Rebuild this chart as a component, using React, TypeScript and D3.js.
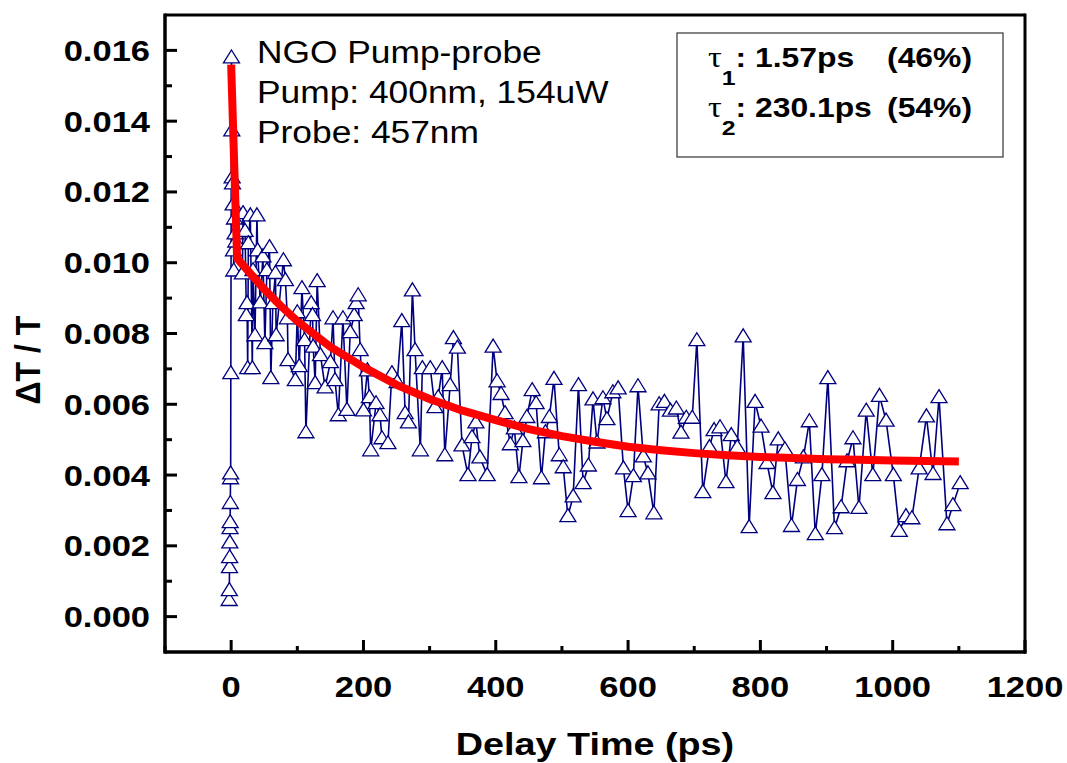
import React from "react";
import * as d3 from "d3";

// ---- Data ----
// Delay time in ps, ΔT/T in units of 1e-3
const delayTimes = [
  -3.0, -2.75, -2.5, -2.25, -2.0, -1.75, -1.5, -1.25, -1.0, -0.75, -0.5,
  0.5, 1.0, 1.5, 2.0, 3.0, 3.5, 4.0, 5.0, 6.0, 7.0,
  17, 18, 21, 23, 24, 25, 26, 29, 32, 33, 36, 39, 40, 44, 48, 51, 54, 58, 60,
  63, 67, 68, 79, 82, 85, 86, 97, 100, 103, 107, 111, 113, 121, 123, 124, 127,
  130, 135, 142, 150, 154, 157, 162, 169, 175, 180, 186, 189, 192, 195, 200,
  206, 209, 211, 219, 225, 228, 237, 243, 251, 258, 263, 268, 274, 278, 286,
  289, 301, 308, 313, 319, 323, 331, 336, 342, 349, 358, 364, 370, 376, 387,
  396, 402, 408, 414, 422, 428, 435, 441, 447, 455, 461, 469, 475, 481, 488,
  496, 502, 509, 517, 525, 532, 540, 547, 553, 562, 568, 577, 585, 593, 600,
  608, 615, 623, 630, 639, 647, 655, 664, 673, 680, 688, 697, 704, 713, 723,
  730, 739, 748, 756, 765, 774, 783, 792, 801, 810, 819, 827, 837, 847, 856,
  865, 874, 883, 893, 902, 912, 922, 931, 940, 949, 960, 970, 980, 990, 1001,
  1010, 1020, 1029, 1040, 1051, 1061, 1070, 1082, 1091, 1102,
];
const signalMilli = [
  0.47, 0.75, 1.4, 1.68, 2.1, 2.5, 2.67, 3.21, 3.91, 4.05, 6.88,
  15.8, 13.74, 12.41, 12.24, 11.65, 10.35, 9.78, 11.25, 10.83, 10.6,
  9.7, 11.4, 10.9, 8.52, 8.86, 7.02, 10.55, 11.34, 7.02, 9.79, 7.95, 11.34, 10.35, 8.88, 10.18, 7.73, 9.79, 10.44, 6.74,
  8.86, 9.71, 7.95, 10.07, 9.51, 8.43, 7.25, 6.68, 8.6, 7.08, 9.28, 7.81, 5.21, 8.86, 8.52, 7.63, 6.6,
  9.48, 7.39, 6.48, 7.19, 8.43, 6.68, 5.69, 8.43, 5.84, 8.04, 8.52, 8.86, 9.08, 7.53, 5.83,
  6.96, 6.2, 4.7, 6.03, 5.69, 5.04, 4.9, 6.88, 6.63, 8.35, 5.75, 5.49, 9.22, 7.53, 4.7,
  7.02, 7.02, 5.92, 6.2, 7.02, 4.56, 6.54, 7.87, 7.6, 4.84, 4.0, 5.07, 5.49, 4.5, 4.0,
  7.63, 6.65, 6.29, 5.75, 4.87, 5.32, 3.94, 4.96, 5.64, 6.4, 6.03, 3.91, 5.21, 5.64, 6.72,
  4.56, 4.22, 2.84, 3.4, 6.54, 3.77, 4.27, 6.14, 4.92, 6.17, 5.58, 6.34, 6.45, 4.19, 2.98,
  3.97, 6.51, 4.53, 4.05, 2.92, 6.0, 6.07, 5.82, 5.88, 5.2, 5.62, 5.62, 7.81, 3.52, 4.79,
  5.27, 5.35, 3.8, 5.13, 4.79, 7.92, 2.53, 6.07, 5.37, 4.34, 3.49, 5.01, 4.73, 2.56, 3.86,
  4.5, 5.52, 2.33, 4.0, 6.74, 2.5, 3.09, 4.39, 5.04, 3.07, 5.82, 4.0, 6.24, 5.54, 4.0,
  2.42, 2.84, 2.78, 4.19, 5.66, 4.03, 6.2, 2.61, 3.15, 3.77,
];

// Biexponential fit curve
const fitTimes = [0, 9, 25, 50, 75, 100, 150, 200, 250, 300, 350, 400, 450, 500, 550, 600, 650, 700, 750, 800, 850, 900, 950, 1000, 1050, 1100];
const fitMilli = [15.6, 10.12, 9.78, 9.25, 8.78, 8.35, 7.62, 7.05, 6.55, 6.15, 5.82, 5.55, 5.3, 5.1, 4.94, 4.8, 4.7, 4.62, 4.56, 4.51, 4.48, 4.45, 4.43, 4.41, 4.4, 4.38];

const xTickValues = [0, 200, 400, 600, 800, 1000, 1200];
const xMinorTicks = [-100, 100, 300, 500, 700, 900, 1100];
const yTickValues = [0, 0.002, 0.004, 0.006, 0.008, 0.01, 0.012, 0.014, 0.016];
const yMinorTicks = [0.001, 0.003, 0.005, 0.007, 0.009, 0.011, 0.013, 0.015];

const infoLines = ["NGO Pump-probe", "Pump: 400nm, 154uW", "Probe: 457nm"];
const lifetimes = [
  { sub: "1", value: ": 1.57ps", frac: "(46%)" },
  { sub: "2", value: ": 230.1ps", frac: "(54%)" },
];
const xTitle = "Delay Time (ps)";
const yTitle = "ΔT / T";

// ---- Layout ----
const W = 1067;
const H = 763;
const L = 165, R = 1025, T = 15, B = 652;
const SX = 1.15; // horizontal stretch of the original export's text
const NAVY = "#00007f";
const FONT = "'Liberation Sans', Arial, Helvetica, sans-serif";

function SText(props: any) {
  const { x, y, sx = SX, rotate, children, ...rest } = props;
  const tr = `translate(${x},${y}) scale(${sx},1)` + (rotate ? ` rotate(${rotate})` : "");
  return (
    <text transform={tr} fontFamily={FONT} {...rest}>
      {children}
    </text>
  );
}

export default function App() {
  const x = d3.scaleLinear().domain([-100, 1200]).range([L, R]);
  const y = d3.scaleLinear().domain([-0.001, 0.017]).range([B, T]);

  const pts = delayTimes.map((t, i) => [t, signalMilli[i] * 1e-3] as [number, number]);
  const fitPts = fitTimes.map((t, i) => [t, fitMilli[i] * 1e-3] as [number, number]);

  const line = d3.line<[number, number]>().x((d) => x(d[0])).y((d) => y(d[1]));
  const tri = (cx: number, cy: number) =>
    `M${cx},${cy - 7.5}L${cx + 8},${cy + 5.5}L${cx - 8},${cy + 5.5}Z`;

  const fmt = d3.format(".3f");

  return (
    <svg
      width={W}
      height={H}
      style={{ position: "absolute", left: 0, top: 0, background: "#fff" }}
    >
      <rect x={0} y={0} width={W} height={H} fill="#fff" />

      {/* data line */}
      <path d={line(pts) || ""} fill="none" stroke={NAVY} strokeWidth={1.6} strokeLinejoin="miter" />
      {/* markers */}
      {pts.map((d, i) => (
        <path key={i} d={tri(x(d[0]), y(d[1]))} fill="#fff" stroke={NAVY} strokeWidth={1.3} />
      ))}
      {/* fit */}
      <path d={line(fitPts) || ""} fill="none" stroke="#ff0000" strokeWidth={8} strokeLinecap="butt" strokeLinejoin="round" />

      {/* frame */}
      <line x1={L} x2={R} y1={T} y2={T} stroke="#000" strokeWidth={3} />
      <line x1={R} x2={R} y1={T - 1.5} y2={B + 1.5} stroke="#000" strokeWidth={3} />
      <line x1={L} x2={R + 1.5} y1={B} y2={B} stroke="#000" strokeWidth={3.5} />
      <line x1={L} x2={L} y1={T - 1.5} y2={B + 1.75} stroke="#000" strokeWidth={3.5} />

      {/* x ticks */}
      {xTickValues.map((v) => (
        <line key={"xt" + v} x1={x(v)} x2={x(v)} y1={B} y2={B - 12} stroke="#000" strokeWidth={3} />
      ))}
      {xMinorTicks.map((v) => (
        <line key={"xm" + v} x1={x(v)} x2={x(v)} y1={B} y2={B - 6} stroke="#000" strokeWidth={3} />
      ))}
      {xTickValues.map((v) => (
        <SText key={"xl" + v} x={x(v)} y={697} textAnchor="middle" fontSize={30} fontWeight="bold">
          {String(v)}
        </SText>
      ))}

      {/* y ticks */}
      {yTickValues.map((v) => (
        <line key={"yt" + v} x1={L} x2={L + 12} y1={y(v)} y2={y(v)} stroke="#000" strokeWidth={3} />
      ))}
      {yMinorTicks.map((v) => (
        <line key={"ym" + v} x1={L} x2={L + 7} y1={y(v)} y2={y(v)} stroke="#000" strokeWidth={3} />
      ))}
      {yTickValues.map((v) => (
        <SText key={"yl" + v} x={150} y={y(v) + 10.5} textAnchor="end" fontSize={30} fontWeight="bold">
          {fmt(v)}
        </SText>
      ))}

      {/* axis titles */}
      <SText x={(L + R) / 2} y={755} textAnchor="middle" fontSize={32} fontWeight="bold" sx={1.18}>
        {xTitle}
      </SText>
      <SText x={40} y={360} textAnchor="middle" fontSize={32} fontWeight="bold" rotate={-90} sx={1.08}>
        {yTitle}
      </SText>

      {/* info text */}
      {infoLines.map((s, i) => (
        <SText key={"info" + i} x={257} y={63 + i * 40} fontSize={31} sx={1.14}>
          {s}
        </SText>
      ))}

      {/* lifetimes box */}
      <rect x={677} y={33} width={326} height={124} fill="#fff" stroke="#333" strokeWidth={1.2} />
      {lifetimes.map((d, i) => {
        const by = 67 + i * 50;
        return (
          <g key={"lt" + i}>
            <SText x={708} y={by} fontSize={27} fontWeight="bold" sx={1.18}>
              <tspan fontFamily="'Liberation Serif', 'DejaVu Serif', serif" fontWeight="normal" fontSize={29}>τ</tspan>
              <tspan dy={18} fontSize={21}>{d.sub}</tspan>
              <tspan dy={-18}>{d.value}</tspan>
            </SText>
            <SText x={972} y={by} fontSize={27} fontWeight="bold" textAnchor="end" sx={1.18}>
              {d.frac}
            </SText>
          </g>
        );
      })}
    </svg>
  );
}
